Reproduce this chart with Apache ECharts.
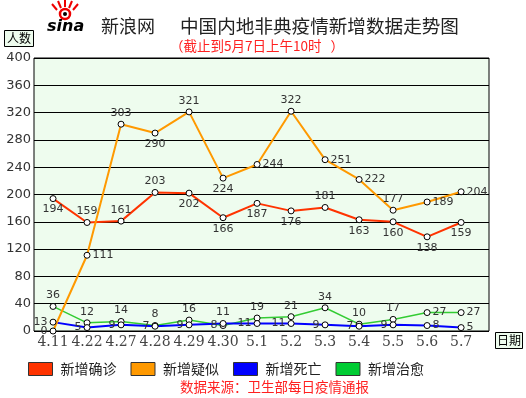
<!DOCTYPE html>
<html>
<head>
<meta charset="utf-8">
<script src="https://cdn.jsdelivr.net/npm/echarts@6/dist/echarts.min.js"></script>
<style>
  html, body { margin: 0; padding: 0; background: #fff; }
  #chart { width: 526px; height: 398px; }
</style>
</head>
<body>
<div id="chart"></div>
<script>
const dates = ['4.11', '4.22', '4.27', '4.28', '4.29', '4.30', '5.1', '5.2', '5.3', '5.4', '5.5', '5.6', '5.7'];
const confirmed = [194, 159, 161, 203, 202, 166, 187, 176, 181, 163, 160, 138, 159];
const suspected = [0, 111, 303, 290, 321, 224, 244, 322, 251, 222, 177, 189, 204];
const deaths = [13, 5, 9, 7, 9, 11, 11, 11, 9, 7, 9, 8, 5];
const cured = [36, 12, 14, 8, 16, 8, 19, 21, 34, 10, 17, 27, 27];
const yTicks = [0, 40, 80, 120, 160, 200, 240, 280, 320, 360, 400];

// where each point's number sits
const confirmedPos = ['bottom', 'top', 'top', 'top', 'bottom', 'bottom', 'bottom', 'bottom', 'top', 'bottom', 'bottom', 'bottom', 'bottom'];
const suspectedPos = ['left', 'right', 'top', 'bottom', 'top', 'bottom', 'right', 'top', 'right', 'right', 'top', 'right', 'right'];
const deathsPos = ['left', 'left', 'left', 'left', 'left', 'top', 'left', 'left', 'left', 'left', 'left', 'right', 'right'];
const curedPos = ['top', 'top', 'top', 'top', 'top', 'left', 'top', 'top', 'top', 'top', 'top', 'right', 'right'];

const chart = echarts.init(document.getElementById('chart'));

function makeSeries(name, values, positions, color, width) {
    return {
        name: name,
        type: 'line',
        data: values.map((v, i) => ({
            value: [i, v],
            label: { position: positions[i] }
        })),
        symbol: 'circle',
        symbolSize: 6,
        itemStyle: { color: '#fff', borderColor: '#000', borderWidth: 1 },
        lineStyle: { color: color, width: width },
        label: {
            show: true,
            distance: 2,
            color: '#333',
            fontSize: 11,
            fontFamily: 'DejaVu Sans',
            formatter: p => p.value[1]
        },
        emphasis: { disabled: true },
        animation: false
    };
}

const red = '#e00';
const rays = [[57, 10, 52, 4], [61, 8, 58, 1], [65, 7, 65, 0], [69, 8, 72, 1], [73, 10, 78, 4]];

const option = {
    backgroundColor: '#fff',
    animation: false,
    grid: {
        left: 34, top: 58, width: 455, height: 273,
        show: true,
        backgroundColor: '#eefcee',
        borderColor: '#000',
        borderWidth: 1
    },
    legend: {
        left: 28, top: 362,
        padding: 0,
        icon: 'rect',
        itemWidth: 24, itemHeight: 13,
        itemGap: 14,
        textStyle: { fontSize: 14, color: '#222', fontFamily: 'Noto Sans CJK SC', padding: [0, 0, 0, 3] },
        data: [
            { name: '新增确诊', itemStyle: { color: '#ff3300', borderColor: '#333', borderWidth: 1 } },
            { name: '新增疑似', itemStyle: { color: '#ff9900', borderColor: '#333', borderWidth: 1 } },
            { name: '新增死亡', itemStyle: { color: '#0000ff', borderColor: '#333', borderWidth: 1 } },
            { name: '新增治愈', itemStyle: { color: '#00cc33', borderColor: '#333', borderWidth: 1 } }
        ]
    },
    xAxis: {
        type: 'value',
        min: -0.56,
        max: 12.82,
        axisLine: { show: false },
        axisTick: { show: false },
        splitLine: { show: false },
        axisLabel: {
            customValues: dates.map((_, i) => i),
            formatter: v => dates[Math.round(v)],
            color: '#444',
            fontSize: 14,
            fontFamily: 'DejaVu Serif',
            margin: 4
        }
    },
    yAxis: {
        type: 'value',
        min: 0,
        max: 400,
        interval: 40,
        axisLine: { show: false },
        axisTick: { show: false },
        splitLine: { lineStyle: { color: '#000', width: 1 } },
        axisLabel: {
            customValues: yTicks,
            color: '#333',
            fontSize: 13,
            fontFamily: 'DejaVu Sans',
            margin: 3
        }
    },
    series: [
        makeSeries('新增治愈', cured, curedPos, '#33cc33', 1.5),
        makeSeries('新增死亡', deaths, deathsPos, '#0000ff', 2),
        makeSeries('新增确诊', confirmed, confirmedPos, '#ff3300', 2),
        makeSeries('新增疑似', suspected, suspectedPos, '#ff9900', 2)
    ],
    graphic: [
        // sina logo
        ...rays.map(r => ({ type: 'line', shape: { x1: r[0], y1: r[1], x2: r[2], y2: r[3] }, style: { stroke: red, lineWidth: 2 } })),
        { type: 'circle', shape: { cx: 65, cy: 14, r: 5 }, style: { fill: '#fff', stroke: red, lineWidth: 2.5 } },
        { type: 'circle', shape: { cx: 65, cy: 14, r: 2 }, style: { fill: '#000' } },
        {
            type: 'text', left: 47, top: 19,
            style: { text: 'sina', fontSize: 16, fontWeight: 'bold', fontStyle: 'italic', fontFamily: 'DejaVu Sans', fill: '#000' }
        },
        {
            type: 'text', left: 101, top: 17,
            style: { text: '新浪网', fontSize: 18, fontFamily: 'Noto Sans CJK SC', fill: '#222' }
        },
        {
            type: 'text', left: 180, top: 17,
            style: { text: '中国内地非典疫情新增数据走势图', fontSize: 18.6, fontFamily: 'Noto Sans CJK SC', fill: '#222' }
        },
        {
            type: 'text', left: 170, top: 39,
            style: { text: '（截止到5月7日上午10时   ）', fontSize: 13.5, fontFamily: 'Noto Sans CJK SC', fill: '#ff2020' }
        },
        // 人数 box
        {
            type: 'group', left: 4, top: 30,
            children: [
                { type: 'rect', shape: { x: 0, y: 0, width: 29, height: 16 }, style: { fill: '#eefcee', stroke: '#000', lineWidth: 1 } },
                { type: 'text', x: 14.5, y: 8, style: { text: '人数', fontSize: 12, fontFamily: 'Noto Sans CJK SC', fill: '#000', align: 'center', verticalAlign: 'middle' } }
            ]
        },
        // 日期 box
        {
            type: 'group', left: 495, top: 332,
            children: [
                { type: 'rect', shape: { x: 0, y: 0, width: 27, height: 16 }, style: { fill: '#eefcee', stroke: '#000', lineWidth: 1 } },
                { type: 'text', x: 13.5, y: 8, style: { text: '日期', fontSize: 12, fontFamily: 'Noto Sans CJK SC', fill: '#000', align: 'center', verticalAlign: 'middle' } }
            ]
        },
        {
            type: 'text', left: 180, top: 380,
            style: { text: '数据来源：卫生部每日疫情通报', fontSize: 13.5, fontFamily: 'Noto Sans CJK SC', fill: '#ff2020' }
        }
    ]
};

chart.setOption(option);
</script>
</body>
</html>
